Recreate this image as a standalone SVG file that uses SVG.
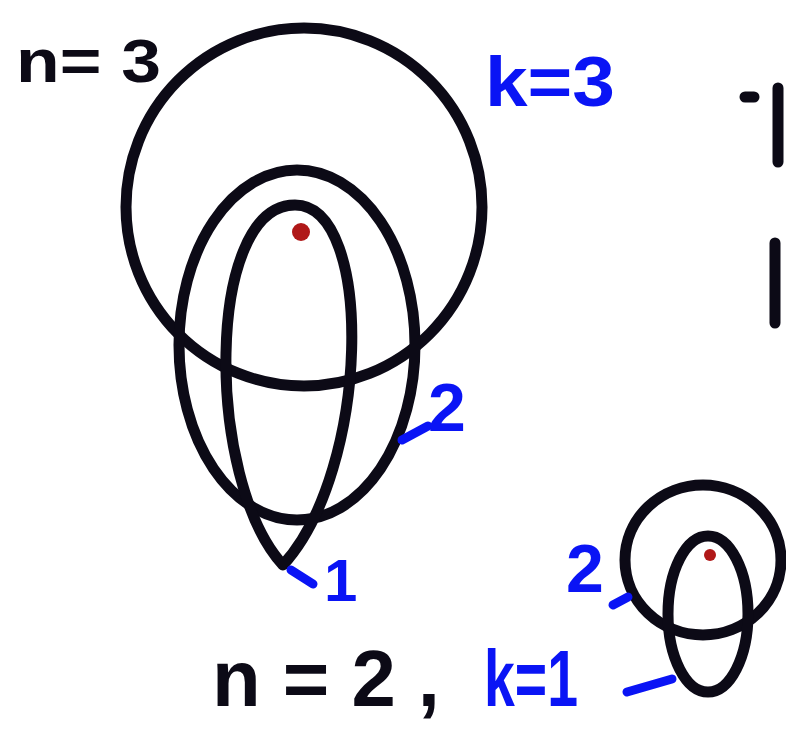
<svg xmlns="http://www.w3.org/2000/svg" width="786" height="731" viewBox="0 0 786 731">
<style>
.ink{fill:none;stroke:#0c0a16;stroke-width:11;stroke-linecap:round;stroke-linejoin:round}
.blue{fill:none;stroke:#0a14f5;stroke-width:9;stroke-linecap:round}
.bt{fill:#0a14f5;font-family:"Liberation Sans",Arial,sans-serif;font-weight:bold}
.kt{fill:#0c0a16;font-family:"Liberation Sans",Arial,sans-serif;font-weight:bold}
.dot{fill:#b01818}
</style>
<rect width="786" height="731" fill="#ffffff"/>
<g id="big">
  <ellipse id="big-circle" class="ink" cx="304" cy="207" rx="178" ry="179"/>
  <ellipse id="big-egg" class="ink" cx="297" cy="345" rx="118" ry="175"/>
  <path id="big-narrow" class="ink" d="M 295 205 C 205 205, 205 480, 283 565 C 370 470, 375 205, 295 205 Z"/>
  <circle id="big-dot" class="dot" cx="301" cy="232" r="9"/>
</g>
<g id="small">
  <ellipse id="small-circle" class="ink" cx="703" cy="560" rx="78" ry="75"/>
  <ellipse id="small-egg" class="ink" cx="708" cy="614" rx="40" ry="78"/>
  <circle id="small-dot" class="dot" cx="710" cy="555" r="6"/>
</g>
<g id="ticks">
  <path class="blue" d="M 402 440 L 428 426"/>
  <path class="blue" d="M 291 570 L 313 584"/>
  <path class="blue" d="M 613 605 L 628 597"/>
  <path class="blue" d="M 627 692 L 672 679"/>
  <path class="ink" stroke-width="5" d="M 745 97 L 754 97"/>
  <path class="ink" d="M 778 88 L 778 162"/>
  <path class="ink" d="M 775 243 L 775 323"/>
</g>
<g id="labels">
  <text class="kt" x="16" y="82" font-size="62" textLength="145" lengthAdjust="spacingAndGlyphs">n= 3</text>
  <text class="bt" x="485" y="106" font-size="70" textLength="130" lengthAdjust="spacingAndGlyphs">k=3</text>
  <text class="bt" x="428" y="431" font-size="68">2</text>
  <text class="bt" x="324" y="601" font-size="60">1</text>
  <text class="bt" x="566" y="592" font-size="68">2</text>
  <text class="kt" x="212" y="706" font-size="80" textLength="228" lengthAdjust="spacingAndGlyphs">n = 2 ,</text>
  <text class="bt" x="484" y="706" font-size="80" textLength="94" lengthAdjust="spacingAndGlyphs">k=1</text>
</g>
</svg>
